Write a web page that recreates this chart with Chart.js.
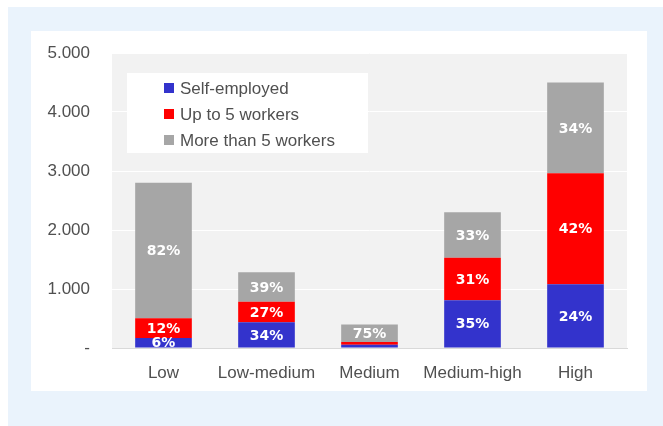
<!DOCTYPE html>
<html>
<head>
<meta charset="utf-8">
<script src="https://cdn.jsdelivr.net/npm/chart.js@4/dist/chart.umd.min.js"></script>
<style>
  html, body { margin: 0; padding: 0; background: #fff; }
  #panel { position: absolute; left: 8px; top: 7px; right: 0; bottom: 0; background: #eaf3fc; }
  #card { position: absolute; left: 31px; top: 31px; width: 616px; height: 360px; background: #fff; }
  #chart { display: block; }
</style>
</head>
<body>
<div id="panel"></div>
<div id="card"><canvas id="chart" width="616" height="360"></canvas></div>
<script>
const categories = ['Low', 'Low-medium', 'Medium', 'Medium-high', 'High'];
const selfEmployed = [170, 435, 55, 810, 1080];
const upTo5 = [335, 350, 45, 720, 1880];
const moreThan5 = [2295, 500, 300, 770, 1540];
const yTicks = [0, 1000, 2000, 3000, 4000, 5000];

const textColor = '#505050';
const tickFont = { family: '"Liberation Sans", Arial, sans-serif', size: 17 };

// grey plot background behind grid and bars
const plotBg = {
    id: 'plotBg',
    beforeDraw(chart) {
        const { ctx, chartArea: a } = chart;
        ctx.save();
        ctx.fillStyle = '#f2f2f2';
        ctx.fillRect(a.left, a.top, a.width, a.height);
        ctx.restore();
    }
};

// legend box sitting inside the plot, top left
const innerLegend = {
    id: 'innerLegend',
    beforeDatasetsDraw(chart) {
        const { ctx, chartArea: a } = chart;
        const x = a.left + 15, y = a.top + 20;
        ctx.save();
        ctx.fillStyle = '#fff';
        ctx.fillRect(x, y, 241, 80);
        ctx.font = '17px "Liberation Sans", Arial, sans-serif';
        ctx.textBaseline = 'middle';
        chart.data.datasets.forEach((ds, i) => {
            const cy = y + 15 + i * 26;
            ctx.fillStyle = ds.backgroundColor;
            ctx.fillRect(x + 37, cy - 5, 10, 10);
            ctx.fillStyle = textColor;
            ctx.fillText(ds.label, x + 53, cy + 1);
        });
        ctx.restore();
    }
};

// share of each segment in its column, written in the middle of the segment
const pctLabels = {
    id: 'pctLabels',
    afterDatasetsDraw(chart) {
        const { ctx, chartArea: a } = chart;
        ctx.save();
        ctx.beginPath();
        ctx.rect(a.left, a.top, a.width, a.height);
        ctx.clip();
        ctx.font = 'bold 14px "DejaVu Sans", Verdana, sans-serif';
        ctx.fillStyle = '#fff';
        ctx.textAlign = 'center';
        ctx.textBaseline = 'middle';
        chart.data.datasets.forEach((ds, i) => {
            chart.getDatasetMeta(i).data.forEach((bar, j) => {
                const total = chart.data.datasets.reduce((s, d) => s + d.data[j], 0);
                const { x, y, base } = bar.getProps(['x', 'y', 'base'], true);
                if (Math.abs(base - y) < 8) return;
                ctx.fillText(Math.round(ds.data[j] / total * 100) + '%', x, (y + base) / 2 + 1);
            });
        });
        ctx.restore();
    }
};

new Chart(document.getElementById('chart').getContext('2d'), {
    type: 'bar',
    data: {
        labels: categories,
        datasets: [
            { label: 'Self-employed', data: selfEmployed, backgroundColor: '#3333cc' },
            { label: 'Up to 5 workers', data: upTo5, backgroundColor: '#ff0000' },
            { label: 'More than 5 workers', data: moreThan5, backgroundColor: '#a6a6a6' }
        ]
    },
    options: {
        responsive: false,
        animation: false,
        events: [],
        layout: { padding: { left: 0, top: 22, right: 20, bottom: 0 } },
        datasets: { bar: { categoryPercentage: 1, barPercentage: 0.55, borderWidth: 0 } },
        plugins: {
            legend: { display: false },
            tooltip: { enabled: false }
        },
        scales: {
            x: {
                stacked: true,
                grid: { display: false, drawTicks: false },
                border: { display: true, color: '#d9d9d9', width: 1 },
                ticks: { color: textColor, font: tickFont, padding: 15, maxRotation: 0 },
                afterFit: (s) => { s.height = 43; }
            },
            y: {
                stacked: true,
                min: 0,
                max: 5000,
                afterBuildTicks: (s) => { s.ticks = yTicks.map(v => ({ value: v })); },
                grid: {
                    drawTicks: false,
                    color: (c) => c.tick && c.tick.value === 0 ? 'rgba(0,0,0,0)' : '#ffffff',
                    lineWidth: 1
                },
                border: { display: false },
                ticks: {
                    color: textColor,
                    font: tickFont,
                    padding: 22,
                    callback: (v) => v === 0 ? '-' : String(v).replace(/\B(?=(\d{3})+(?!\d))/g, '.')
                },
                afterFit: (s) => {
                    s.width = 81;
                    s.paddingTop = 0;
                    s.paddingBottom = 0;
                }
            }
        }
    },
    plugins: [plotBg, innerLegend, pctLabels]
});
</script>
</body>
</html>
